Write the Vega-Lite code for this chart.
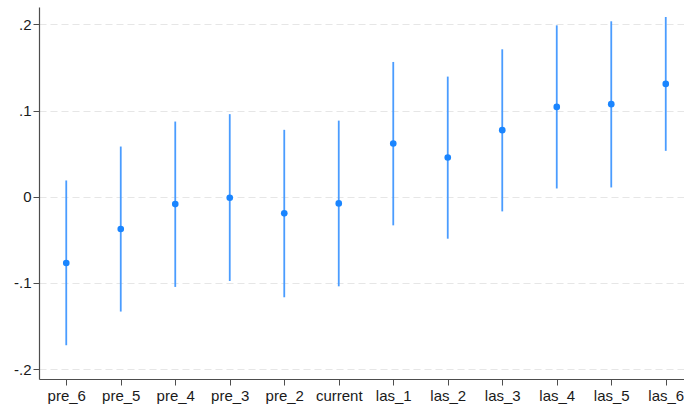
{
  "$schema": "https://vega.github.io/schema/vega-lite/v6.json",
  "autosize": "none",
  "width": 645,
  "height": 372,
  "padding": {"left": 39, "top": 7, "right": 0, "bottom": 27},
  "background": "white",
  "config": {
    "view": {"stroke": null},
    "font": "Liberation Sans"
  },
  "data": {
    "values": [
      {"term": "pre_6", "coef": -0.0769, "lo": -0.1724, "hi": 0.0189},
      {"term": "pre_5", "coef": -0.0375, "lo": -0.1333, "hi": 0.0583},
      {"term": "pre_4", "coef": -0.0085, "lo": -0.1047, "hi": 0.0873},
      {"term": "pre_3", "coef": -0.0012, "lo": -0.0978, "hi": 0.0959},
      {"term": "pre_2", "coef": -0.0193, "lo": -0.1167, "hi": 0.0777},
      {"term": "current", "coef": -0.0077, "lo": -0.1040, "hi": 0.0884},
      {"term": "las_1", "coef": 0.0618, "lo": -0.0332, "hi": 0.1565},
      {"term": "las_2", "coef": 0.0456, "lo": -0.0487, "hi": 0.1395},
      {"term": "las_3", "coef": 0.0773, "lo": -0.0170, "hi": 0.1712},
      {"term": "las_4", "coef": 0.1043, "lo": 0.0096, "hi": 0.1990},
      {"term": "las_5", "coef": 0.1075, "lo": 0.0108, "hi": 0.2037},
      {"term": "las_6", "coef": 0.1310, "lo": 0.0533, "hi": 0.2087}
    ]
  },
  "encoding": {
    "x": {
      "field": "term",
      "type": "ordinal",
      "sort": null,
      "scale": {"type": "point", "padding": 0.4174, "align": 0.599},
      "axis": {
        "title": null,
        "labelAngle": 0,
        "labelFontSize": 15,
        "labelColor": "#1a1a1a",
        "labelPadding": 3,
        "tickSize": 6,
        "tickColor": "#4d4d4d",
        "domainColor": "#4d4d4d",
        "domainWidth": 1.2,
        "grid": false
      }
    }
  },
  "layer": [
    {
      "mark": {"type": "rule", "color": "#4a9cff", "strokeWidth": 1.8},
      "encoding": {
        "y": {
          "field": "lo",
          "type": "quantitative",
          "scale": {"domain": [-0.2116, 0.2203], "nice": false, "zero": false},
          "axis": {
            "title": null,
            "values": [-0.2, -0.1, 0, 0.1, 0.2],
            "labelExpr": "datum.value == 0 ? '0' : (datum.value < 0 ? '-' : '') + '.' + format(round(abs(datum.value) * 10), 'd')",
            "labelFontSize": 15,
            "labelColor": "#1a1a1a",
            "labelPadding": 2,
            "tickSize": 6,
            "tickColor": "#4d4d4d",
            "domainColor": "#4d4d4d",
            "domainWidth": 1.2,
            "grid": true,
            "gridColor": "#e6e6e6",
            "gridDash": [7, 4],
            "gridWidth": 1.2
          }
        },
        "y2": {"field": "hi"}
      }
    },
    {
      "mark": {"type": "point", "filled": true, "color": "#1a85ff", "opacity": 1, "size": 44},
      "encoding": {
        "y": {"field": "coef", "type": "quantitative"}
      }
    }
  ]
}
